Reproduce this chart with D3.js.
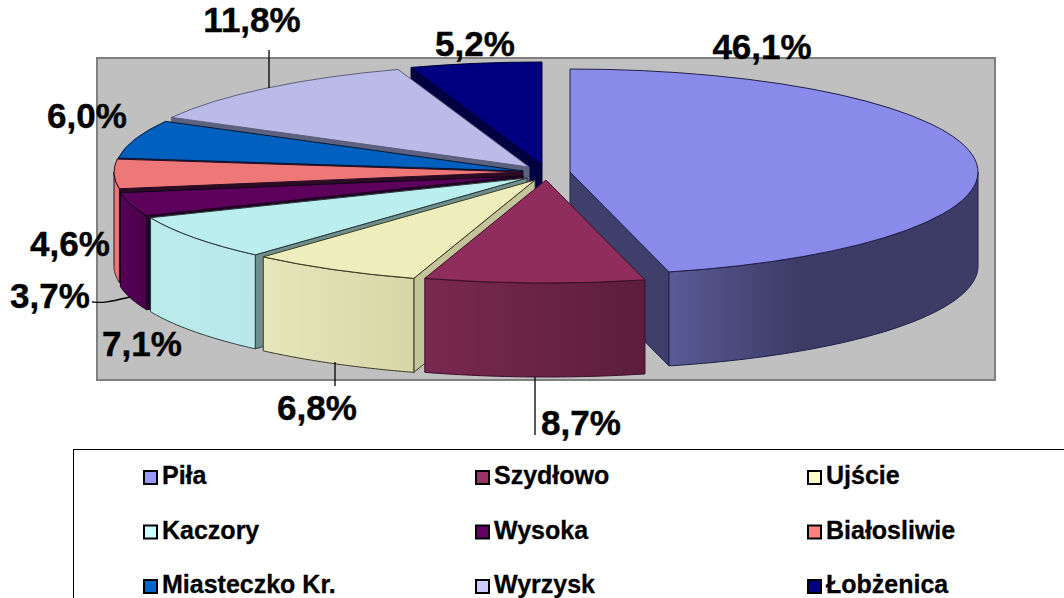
<!DOCTYPE html>
<html><head><meta charset="utf-8">
<script src="https://cdn.jsdelivr.net/npm/d3@7/dist/d3.min.js"></script>
<style>html,body{margin:0;padding:0;background:#fff;overflow:hidden}svg{display:block}
text{font-family:"Liberation Sans",Arial,sans-serif;font-weight:bold;fill:#000}</style>
</head><body><svg id="c" width="1064" height="598"></svg>
<script>
const categories=["Piła","Szydłowo","Ujście","Kaczory","Wysoka","Białosliwie","Miasteczko Kr.","Wyrzysk","Łobżenica"];
const values=[46.1,8.7,6.8,7.1,3.7,4.6,6.0,11.8,5.2];
const legendColors=["#9999ff","#993366","#ffffcc","#ccffff","#660066","#ff8080","#0066cc","#ccccff","#000080"];
const topColors=["#8a8aea","#8f2d5c","#eeeebc","#bbeeee","#5c005c","#ee7777","#0060bf","#bbbbea","#000080"];
const wallFrom=["#5a5a96","#7a2850","#e6e6bc","#bbeaea","#560056","#ee7777","#004080","#8080a0","#000060"];
const wallTo=["#3c3c66","#5c1e3e","#d6d6a6","#b8e8ea","#4a004a","#ee7777","#004080","#8080a0","#000060"];
const cutColors=["#3f3f6c","#5c1e3e","#c4c49a","#6f8f8f","#2a002a","#2c0c24","#001830","#5c6280","#000040"];
const edgeColors=["#20204a","#3c0f28","#3a3a24","#2c3c3c","#12001a","#2c0c24","#001830","#60607c","#000030"];
const explodeX=[570,546,535,527,523,522,523,529,542];
const explodeY=[172,180,180,178,176,172,171,167,165];
const drawOrder=[8,7,6,5,4,0,3,2,1];
const labelX=[762,581,317,142,50,70,87,252,475];
const labelY=[59,435,420,356,308,256,128,32,56];
const leaders=[[[269,50],[269,88]],[[335,362],[335,386]],[[535,377],[535,435]],[[92,302],[105,303],[130,297]]];
const RX=408,RY=103,DEPTH=94;

const svg=d3.select("#c");
const defs=svg.append("defs");
svg.append("rect").attr("x",97).attr("y",58).attr("width",898).attr("height",322)
  .attr("fill","#c0c0c0").attr("stroke","#808080").attr("stroke-width",2);

const pieGen=d3.pie().value(d=>d).sort(null);
const arcs=pieGen(values);
const arcGen=d3.arc().innerRadius(0).outerRadius(RX);
const HALF=Math.PI/2;
const lineGen=d3.line();

drawOrder.forEach(i=>{
  const a=arcs[i],cx=explodeX[i],cy=explodeY[i];
  const P=(t,dz=0)=>[cx+RX*Math.sin(t),cy-RY*Math.cos(t)+dz];
  const g=svg.append("g").attr("stroke",edgeColors[i]).attr("stroke-width",1).attr("stroke-linejoin","round");
  const cuts=[];
  if(Math.sin(a.startAngle)<0) cuts.push(a.startAngle);
  if(Math.sin(a.endAngle)>0) cuts.push(a.endAngle);
  cuts.forEach(t=>{
    g.append("path").attr("fill",cutColors[i])
     .attr("d",lineGen([[cx,cy],P(t),P(t,DEPTH),[cx,cy+DEPTH]])+"Z");
  });
  const w0=Math.max(a.startAngle,HALF),w1=Math.min(a.endAngle,3*HALF);
  if(w1>w0){
    const n=60,ts=d3.range(n+1).map(k=>w0+(w1-w0)*k/n);
    const id="w"+i;
    const xL=P(w1)[0],xR=P(w0)[0];
    const gr=defs.append("linearGradient").attr("id",id).attr("gradientUnits","userSpaceOnUse")
      .attr("x1",xL).attr("x2",i===0?xL+(xR-xL)*0.42:xR).attr("y1",0).attr("y2",0);
    gr.append("stop").attr("offset",0).attr("stop-color",wallFrom[i]);
    gr.append("stop").attr("offset",1).attr("stop-color",wallTo[i]);
    const pts=ts.map(t=>P(t)).concat(ts.slice().reverse().map(t=>P(t,DEPTH)));
    g.append("path").attr("fill",`url(#${id})`).attr("d",lineGen(pts)+"Z");
  }
  svg.append("path").attr("fill",topColors[i]).attr("stroke",edgeColors[i])
    .attr("vector-effect","non-scaling-stroke")
    .attr("transform",`translate(${cx},${cy}) scale(1,${RY/RX})`)
    .attr("d",arcGen(a));
});

leaders.forEach((pts,k)=>{
  svg.append("path").attr("fill","none").attr("stroke","#000").attr("stroke-width",1.3)
    .attr("d",(pts.length>2?d3.line().curve(d3.curveBasis):d3.line())(pts));
});

const fmt=v=>v.toFixed(1).replace(".",",")+"%";
svg.selectAll("text.lab").data(values).join("text").attr("class","lab")
  .attr("x",(d,i)=>labelX[i]).attr("y",(d,i)=>labelY[i]).attr("text-anchor","middle")
  .style("font-size","35px").style("stroke","#000").style("stroke-width","0.4px").text(fmt);

svg.append("rect").attr("x",73.5).attr("y",449.5).attr("width",1100).attr("height",300)
  .attr("fill","none").attr("stroke","#000").attr("stroke-width",1);
const colX=d3.scalePoint().domain([0,1,2]).range([143,807]);
const rowY=d3.scalePoint().domain([0,1,2]).range([470,579]);
categories.forEach((c,i)=>{
  const x=colX(i%3),y=rowY(Math.floor(i/3));
  svg.append("rect").attr("x",x+1).attr("y",y+1).attr("width",13).attr("height",13)
    .attr("fill",legendColors[i]).attr("stroke","#000").attr("stroke-width",2);
  svg.append("text").attr("x",x+19).attr("y",y+14).style("font-size","25px").style("stroke","#000").style("stroke-width","0.3px").text(c);
});
</script></body></html>
